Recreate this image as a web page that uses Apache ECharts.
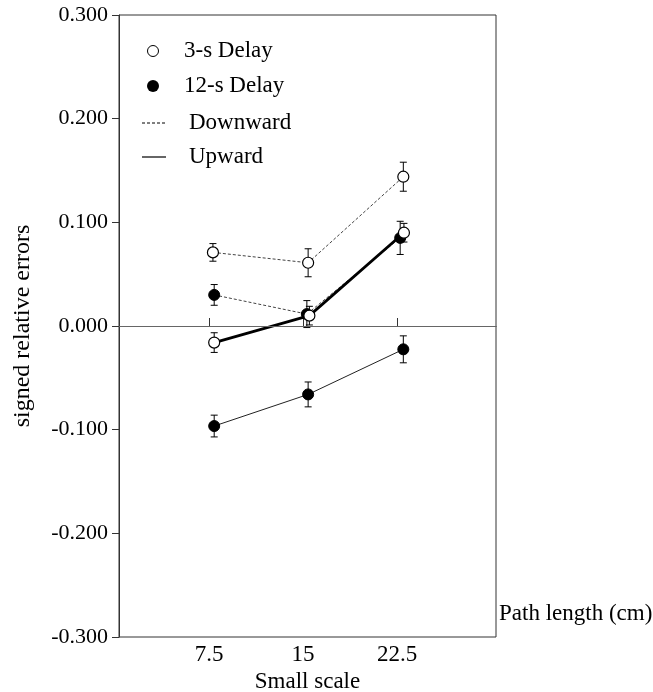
<!DOCTYPE html>
<html lang="en">
<head>
    <meta charset="UTF-8">
    <title>signed relative errors</title>
    <script src="https://cdn.jsdelivr.net/npm/echarts@6/dist/echarts.min.js"></script>
    <style>
        html, body { margin: 0; padding: 0; background: #fff; }
        #chart { width: 653px; height: 692px; }
    </style>
</head>
<body>
<div id="chart"></div>
<script>
    // tick labels
    var xTicks = [7.5, 15, 22.5];
    var yMin = -0.3, yMax = 0.3, yStep = 0.1;

    // 3-s Delay, Downward (open circle, dotted)
    var down3X = [7.8, 15.4, 23.0];
    var down3Y = [0.071, 0.061, 0.144];
    var down3Err = [0.0085, 0.0135, 0.014];
    // 12-s Delay, Downward (filled circle, dotted)
    var down12X = [7.9, 15.3, 22.75];
    var down12Y = [0.030, 0.0115, 0.085];
    var down12Err = [0.010, 0.013, 0.016];
    // 3-s Delay, Upward (open circle, thick solid)
    var up3X = [7.9, 15.5, 23.05];
    var up3Y = [-0.016, 0.010, 0.090];
    var up3Err = [0.0095, 0.009, 0.009];
    // 12-s Delay, Upward (filled circle, thin solid)
    var up12X = [7.9, 15.4, 23.0];
    var up12Y = [-0.0965, -0.066, -0.0225];
    var up12Err = [0.0105, 0.012, 0.013];

    var font = "'Liberation Serif', 'Times New Roman', serif";

    function pairs(xs, ys) {
        return xs.map(function (x, i) { return [x, ys[i]]; });
    }
    function bars(xs, ys, es) {
        return xs.map(function (x, i) { return [x, ys[i] - es[i], ys[i] + es[i]]; });
    }

    function errorSeries(xs, ys, es) {
        return {
            type: 'custom',
            z: 1,
            silent: true,
            data: bars(xs, ys, es),
            renderItem: function (params, api) {
                var lo = api.coord([api.value(0), api.value(1)]);
                var hi = api.coord([api.value(0), api.value(2)]);
                var w = 3.5;
                var st = { stroke: '#000', lineWidth: 1 };
                return {
                    type: 'group',
                    children: [
                        { type: 'line', shape: { x1: hi[0], y1: hi[1], x2: lo[0], y2: lo[1] }, style: st },
                        { type: 'line', shape: { x1: hi[0] - w, y1: hi[1], x2: hi[0] + w, y2: hi[1] }, style: st },
                        { type: 'line', shape: { x1: lo[0] - w, y1: lo[1], x2: lo[0] + w, y2: lo[1] }, style: st }
                    ]
                };
            }
        };
    }

    function lineSeries(xs, ys, open, lineStyle, z) {
        return {
            type: 'line',
            z: z,
            data: pairs(xs, ys),
            symbol: 'circle',
            symbolSize: 11,
            showSymbol: true,
            lineStyle: lineStyle,
            itemStyle: open
                ? { color: '#fff', borderColor: '#000', borderWidth: 1.2 }
                : { color: '#000', borderColor: '#000', borderWidth: 1 },
            emphasis: { disabled: true }
        };
    }

    var chart = echarts.init(document.getElementById('chart'));
    var option = {
        animation: false,
        backgroundColor: '#fff',
        grid: {
            left: 119, right: 157, top: 15, bottom: 55,
            outerBoundsMode: 'none',
            containLabel: false,
            show: true, borderColor: '#333', borderWidth: 1
        },
        xAxis: {
            type: 'value',
            min: 0.3,
            max: 30.4,
            splitLine: { show: false },
            axisLine: { lineStyle: { color: '#333', width: 1 } },
            axisTick: { inside: true, length: 8, customValues: xTicks, lineStyle: { color: '#333' } },
            axisLabel: {
                customValues: xTicks,
                formatter: function (v) { return String(v); },
                fontFamily: font, fontSize: 23, color: '#000', margin: 6
            },
            name: 'Small scale',
            nameLocation: 'middle',
            nameGap: 31,
            nameTextStyle: { fontFamily: font, fontSize: 23, color: '#000' }
        },
        yAxis: {
            type: 'value',
            min: yMin,
            max: yMax,
            interval: yStep,
            splitLine: { show: false },
            axisLine: { show: true, lineStyle: { color: '#333', width: 1 } },
            axisTick: { show: true, length: 7, lineStyle: { color: '#333' } },
            axisLabel: {
                formatter: function (v) { return v.toFixed(3); },
                fontFamily: font, fontSize: 22, color: '#000', margin: 11
            },
            name: 'signed relative errors',
            nameLocation: 'middle',
            nameGap: 84,
            nameTextStyle: { fontFamily: font, fontSize: 24, color: '#000' }
        },
        graphic: [
            { type: 'circle', shape: { cx: 153, cy: 51, r: 5.5 }, style: { fill: '#fff', stroke: '#000', lineWidth: 1 } },
            { type: 'text', style: { x: 184, y: 51, text: '3-s Delay', font: '23px ' + font, fill: '#000', verticalAlign: 'middle' } },
            { type: 'circle', shape: { cx: 153, cy: 86, r: 6 }, style: { fill: '#000' } },
            { type: 'text', style: { x: 184, y: 86, text: '12-s Delay', font: '23px ' + font, fill: '#000', verticalAlign: 'middle' } },
            { type: 'line', shape: { x1: 142, y1: 123, x2: 166, y2: 123 }, style: { stroke: '#000', lineWidth: 1, lineDash: [3, 2] } },
            { type: 'text', style: { x: 189, y: 123, text: 'Downward', font: '23px ' + font, fill: '#000', verticalAlign: 'middle' } },
            { type: 'line', shape: { x1: 142, y1: 157, x2: 166, y2: 157 }, style: { stroke: '#000', lineWidth: 1.2 } },
            { type: 'text', style: { x: 189, y: 157, text: 'Upward', font: '23px ' + font, fill: '#000', verticalAlign: 'middle' } },
            { type: 'text', style: { x: 499, y: 614, text: 'Path length (cm)', font: '23px ' + font, fill: '#000', verticalAlign: 'middle' } }
        ],
        series: [
            errorSeries(down3X, down3Y, down3Err),
            errorSeries(down12X, down12Y, down12Err),
            errorSeries(up3X, up3Y, up3Err),
            errorSeries(up12X, up12Y, up12Err),
            lineSeries(down3X, down3Y, true, { color: '#444', width: 1, type: [3, 2] }, 3),
            lineSeries(down12X, down12Y, false, { color: '#444', width: 1, type: [3, 2] }, 3),
            lineSeries(up12X, up12Y, false, { color: '#222', width: 1 }, 3),
            lineSeries(up3X, up3Y, true, { color: '#000', width: 2.8 }, 4),
            {
                type: 'line',
                data: [],
                silent: true,
                markLine: {
                    silent: true,
                    symbol: 'none',
                    label: { show: false },
                    lineStyle: { color: '#666', width: 1, type: 'solid' },
                    data: [{ yAxis: 0 }]
                }
            }
        ]
    };
    chart.setOption(option);
</script>
</body>
</html>
